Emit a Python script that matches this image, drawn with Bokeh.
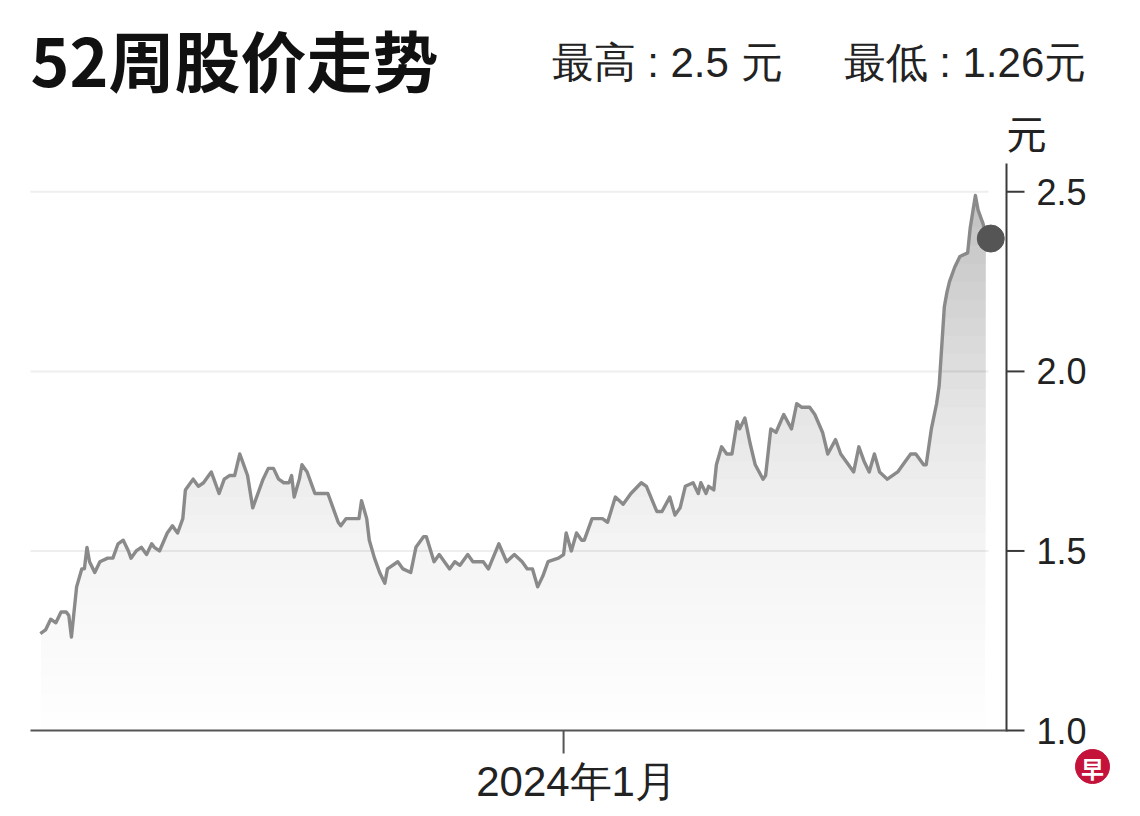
import numpy as np
from bokeh.plotting import figure
from bokeh.models import Range1d
from bokeh.core.properties import value
from bokeh.embed import file_html
from bokeh.resources import INLINE

# ---------------- data ----------------
title_text = "52周股价走势"
high_text = "最高 : 2.5 元"
low_text = "最低 : 1.26元"
unit_text = "元"
logo_text = "早"
x_ticks = [0]                      # day offset of 2024-01-01
x_tick_labels = ["2024年1月"]
y_ticks = [1.0, 1.5, 2.0, 2.5]
y_tick_labels = ["1.0", "1.5", "2.0", "2.5"]
grid_ticks = [1.5, 2.0, 2.5]

# days relative to 2024-01-01
days = [-202, -200, -198, -196, -194, -192, -191, -190, -188, -186,
        -185, -184, -183, -181, -179, -176, -174, -172, -170, -168,
        -167, -165, -163, -161, -159, -158, -156, -153, -151, -150,
        -149, -147, -146, -144, -143, -141, -139, -137, -136, -135,
        -133, -131, -129, -127, -125, -124, -122, -120, -118, -116,
        -114, -112, -110, -108, -106, -105, -104, -102, -101, -99,
        -97, -96, -94, -91, -89, -87, -86, -84, -81, -79,
        -78, -76, -75, -73, -71, -69, -68, -64, -62, -59,
        -57, -54, -53, -50, -48, -44, -42, -40, -37, -35,
        -31, -29, -25, -22, -19, -16, -14, -12, -10, -8,
        -6, -2, 0, 1, 3, 5, 7, 8, 11, 15,
        17, 20, 23, 26, 30, 32, 36, 38, 41, 43,
        45, 47, 50, 52, 53, 55, 56, 58, 59, 61,
        63, 65, 67, 68, 70, 72, 74, 77, 78, 80,
        82, 85, 88, 90, 92, 95, 97, 100, 102, 105,
        107, 110, 112, 114, 116, 118, 120, 122, 125, 129,
        131, 134, 136, 139, 140, 142, 144, 145, 146, 147,
        148, 149, 151, 153, 156, 157, 159, 160, 162, 163]

prices = [1.27, 1.28, 1.31, 1.30, 1.33, 1.33, 1.32, 1.26, 1.40, 1.45,
          1.45, 1.51, 1.47, 1.44, 1.47, 1.48, 1.48, 1.52, 1.53, 1.50,
          1.48, 1.50, 1.51, 1.49, 1.52, 1.51, 1.50, 1.55, 1.57, 1.56,
          1.55, 1.59, 1.67, 1.69, 1.70, 1.68, 1.69, 1.71, 1.72, 1.70,
          1.66, 1.70, 1.71, 1.71, 1.77, 1.75, 1.71, 1.62, 1.66, 1.70,
          1.73, 1.73, 1.70, 1.69, 1.69, 1.71, 1.65, 1.70, 1.74, 1.72,
          1.68, 1.66, 1.66, 1.66, 1.62, 1.58, 1.57, 1.59, 1.59, 1.59,
          1.64, 1.59, 1.53, 1.48, 1.44, 1.41, 1.45, 1.47, 1.45, 1.44,
          1.51, 1.54, 1.54, 1.47, 1.49, 1.45, 1.47, 1.46, 1.49, 1.47,
          1.47, 1.45, 1.52, 1.47, 1.49, 1.47, 1.45, 1.45, 1.40, 1.43,
          1.47, 1.48, 1.49, 1.55, 1.50, 1.55, 1.53, 1.53, 1.59, 1.59,
          1.58, 1.65, 1.63, 1.66, 1.69, 1.68, 1.61, 1.61, 1.65, 1.60,
          1.62, 1.68, 1.69, 1.66, 1.69, 1.66, 1.68, 1.67, 1.74, 1.79,
          1.77, 1.77, 1.86, 1.84, 1.87, 1.80, 1.74, 1.70, 1.71, 1.84,
          1.83, 1.88, 1.84, 1.91, 1.90, 1.90, 1.88, 1.83, 1.77, 1.81,
          1.77, 1.74, 1.72, 1.79, 1.75, 1.72, 1.77, 1.72, 1.70, 1.72,
          1.74, 1.77, 1.77, 1.74, 1.74, 1.84, 1.91, 1.96, 2.07, 2.18,
          2.22, 2.25, 2.29, 2.32, 2.33, 2.40, 2.49, 2.45, 2.41, 2.37]

days_arr = np.array(days, dtype=float)
price_arr = np.array(prices, dtype=float)

# ---------------- geometry (pixels of the plotting area) ----------------
W, H = 1136, 814
FL, FR, FT, FB = 30, 1006, 163, 730      # plotting box
X_START, X_END = -205.8, 171.0           # days shown across the box
Y_BOT, Y_TOP = 1.0, 2.579                # prices shown across the box
SX = (FR - FL) / (X_END - X_START)       # px per day
SY = (FB - FT) / (Y_TOP - Y_BOT)         # px per yuan


def dx(px):
    return X_START + (px - FL) / SX


def dy(py):
    return Y_BOT + (FB - py) / SY


TXT = "#222222"
AX = "#3a3a3a"

p = figure(width=W, height=H, output_backend="svg", toolbar_location=None,
           x_range=Range1d(dx(0), dx(W)), y_range=Range1d(dy(H), dy(0)),
           x_axis_location=None, y_axis_location=None,
           min_border=0, min_border_left=0, min_border_right=0,
           min_border_top=0, min_border_bottom=0)
p.outline_line_color = None
p.xgrid.visible = False
p.ygrid.visible = False
p.background_fill_color = "white"
p.border_fill_color = "white"

# horizontal grid lines
p.segment(x0=[X_START] * len(grid_ticks), y0=grid_ticks,
          x1=[dx(988)] * len(grid_ticks), y1=grid_ticks,
          line_color="#eeeeee", line_width=2)

# gradient fill under the line (stacked translucent layers, darker higher up)
levels = np.arange(1.0, 2.55, 0.05)
for L in levels:
    k = 0.5 * (0.01 + 0.055 * ((L - 1.0) / 1.3) ** 2)
    a = float(1 - np.exp(-k))
    p.varea(x=days_arr, y1=float(L), y2=np.maximum(price_arr, L),
            fill_color="#7a7a7a", fill_alpha=a)

p.line(days_arr, price_arr, line_color="#8a8a8a", line_width=3.4, line_join="round")
p.scatter([days_arr[-1] + 5 / SX], [price_arr[-1]], size=27,
          fill_color="#555555", line_color="#555555")

# ---- y axis (right) ----
p.segment(x0=[X_END], y0=[dy(FB + 1)], x1=[X_END], y1=[Y_TOP],
          line_color=AX, line_width=2)
p.segment(x0=[X_END] * len(y_ticks), y0=y_ticks,
          x1=[X_END + 18 / SX] * len(y_ticks), y1=y_ticks,
          line_color=AX, line_width=2)
p.text(x=[X_END + 30 / SX] * len(y_ticks), y=y_ticks, text=y_tick_labels,
       text_font=value("Liberation Sans"), text_font_size="36px",
       text_color=TXT, text_align="left", text_baseline="middle")
p.text(x=[X_END], y=[dy(131)], text=[unit_text], text_font=value("Noto Sans CJK SC"),
       text_font_size="40px", text_color=TXT, text_baseline="middle")

# ---- x axis (bottom) ----
p.segment(x0=[X_START], y0=[Y_BOT], x1=[X_END], y1=[Y_BOT],
          line_color="#555555", line_width=2)
p.segment(x0=x_ticks, y0=[Y_BOT] * len(x_ticks), x1=x_ticks,
          y1=[dy(FB + 23)] * len(x_ticks), line_color="#555555", line_width=2)
p.text(x=[t + 13 / SX for t in x_ticks], y=[dy(781)] * len(x_ticks), text=x_tick_labels,
       text_font=value("Liberation Sans"), text_font_size="42px", text_color=TXT,
       text_align="center", text_baseline="middle")

# ---- header ----
p.text(x=[dx(30)], y=[dy(57)], text=[title_text], text_font=value("Noto Sans CJK SC"),
       text_font_style="bold", text_font_size="66px", text_color="#111111",
       text_baseline="middle")
p.text(x=[dx(551), dx(843)], y=[dy(62), dy(62)], text=[high_text, low_text],
       text_font=value("Liberation Sans"), text_font_size="42px",
       text_color=TXT, text_baseline="middle")

# ---- logo ----
p.scatter(x=[dx(1092)], y=[dy(766)], size=34, fill_color="#c4123a", line_color="#c4123a")
p.text(x=[dx(1092)], y=[dy(767)], text=[logo_text], text_font=value("Noto Sans CJK SC"),
       text_font_style="bold", text_font_size="23px", text_color="white",
       text_align="center", text_baseline="middle")

open("out.html", "w").write(file_html(p, INLINE))
